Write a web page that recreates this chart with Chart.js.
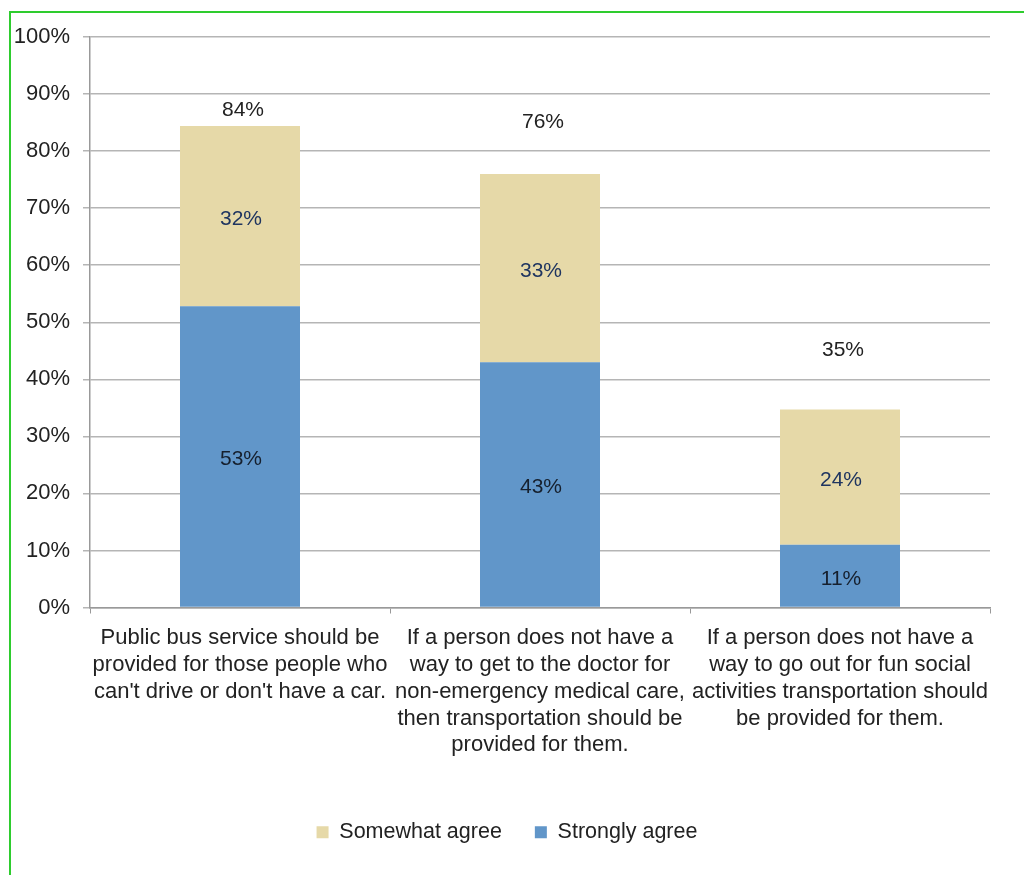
<!DOCTYPE html>
<html>
<head>
<meta charset="utf-8">
<script src="https://cdn.jsdelivr.net/npm/chart.js@4.4.1/dist/chart.umd.min.js"></script>
<style>
  html, body { margin: 0; padding: 0; background: #fff; width: 1024px; height: 875px; overflow: hidden; }
  #frame { position: absolute; left: 9px; top: 11px; width: 1100px; height: 900px; border-left: 2px solid #2ecc2e; border-top: 2px solid #2ecc2e; }
  #wrap { position: absolute; left: 0; top: 0; width: 1024px; height: 875px; }
</style>
</head>
<body>
<div id="frame"></div>
<div id="wrap"><canvas id="c" width="1024" height="875"></canvas></div>
<script>
const categories = [
  ["Public bus service should be", "provided for those people who", "can't drive or don't have a car."],
  ["If a person does not have a", "way to get to the doctor for", "non-emergency medical care,", "then transportation should be", "provided for them."],
  ["If a person does not have a", "way to go out for fun social", "activities transportation should", "be provided for them."]
];
const stronglyAgree = [52.8, 43, 11];
const somewhatAgree = [31.6, 33, 23.7];
const stronglyLabels = ["53%", "43%", "11%"];
const somewhatLabels = ["32%", "33%", "24%"];
const totalLabels = ["84%", "76%", "35%"];
const totalLabelAnchor = [87.2, 85.1, 45.1];
const yTickValues = [0, 10, 20, 30, 40, 50, 60, 70, 80, 90, 100];

const FONT = "'Liberation Sans', Arial, Helvetica, sans-serif";

const legendShift = {
  id: 'legendShift',
  afterLayout(chart) {
    if (chart.legend) { chart.legend.left += 12; chart.legend.right += 12; }
  }
};

const labelPlugin = {
  id: 'segLabels',
  afterDatasetsDraw(chart) {
    const ctx = chart.ctx;
    ctx.save();
    ctx.font = "21px " + FONT;
    ctx.textAlign = 'center';
    ctx.textBaseline = 'middle';
    const sets = [
      { idx: 0, labels: stronglyLabels, color: '#16202e' },
      { idx: 1, labels: somewhatLabels, color: '#1f3560' }
    ];
    sets.forEach(s => {
      const meta = chart.getDatasetMeta(s.idx);
      meta.data.forEach((bar, i) => {
        const p = bar.getProps(['x', 'y', 'base'], true);
        ctx.fillStyle = s.color;
        ctx.fillText(s.labels[i], p.x + 1, (p.y + p.base) / 2 + 3);
      });
    });
    const yScale = chart.scales.y;
    const meta0 = chart.getDatasetMeta(0);
    ctx.fillStyle = '#222';
    meta0.data.forEach((bar, i) => {
      ctx.fillText(totalLabels[i], bar.x + 3, yScale.getPixelForValue(totalLabelAnchor[i]));
    });
    ctx.restore();
  }
};

new Chart(document.getElementById('c'), {
  type: 'bar',
  data: {
    labels: categories,
    datasets: [
      { label: 'Strongly agree', data: stronglyAgree, backgroundColor: '#6196c9', barPercentage: 0.4, categoryPercentage: 1.0 },
      { label: 'Somewhat agree', data: somewhatAgree, backgroundColor: '#e6d9a8', barPercentage: 0.4, categoryPercentage: 1.0 }
    ]
  },
  options: {
    responsive: false,
    animation: false,
    devicePixelRatio: 1,
    layout: { padding: { top: 37, right: 34, bottom: 22, left: 0 } },
    plugins: {
      legend: {
        position: 'bottom',
        reverse: true,
        labels: {
          font: { family: FONT, size: 21.5 },
          color: '#222',
          boxWidth: 12,
          boxHeight: 12,
          padding: 33,
          generateLabels(chart) {
            const items = Chart.defaults.plugins.legend.labels.generateLabels(chart);
            items.forEach(it => { it.lineWidth = 0; });
            return items;
          }
        }
      },
      tooltip: { enabled: false },
      title: { display: false }
    },
    scales: {
      x: {
        stacked: true,
        afterFit(scale) { scale.height = 181; },
        grid: { display: true, drawOnChartArea: false, drawTicks: true, tickLength: 6, color: '#999', offset: true },
        border: { display: true, color: '#999', width: 1.5 },
        ticks: { font: { family: FONT, size: 22, lineHeight: 1.22 }, color: '#222', padding: 11, maxRotation: 0, autoSkip: false }
      },
      y: {
        stacked: true,
        min: 0,
        max: 100,
        afterFit(scale) { scale.width = 90; },
        afterBuildTicks(scale) { scale.ticks = yTickValues.map(v => ({ value: v })); },
        grid: { color: '#b5b5b5', lineWidth: 1.5, tickLength: 7, drawTicks: true },
        border: { display: true, color: '#999', width: 1.5 },
        ticks: { font: { family: FONT, size: 22 }, color: '#222', padding: 13, callback: v => v + '%' }
      }
    }
  },
  plugins: [legendShift, labelPlugin]
});
</script>
</body>
</html>
